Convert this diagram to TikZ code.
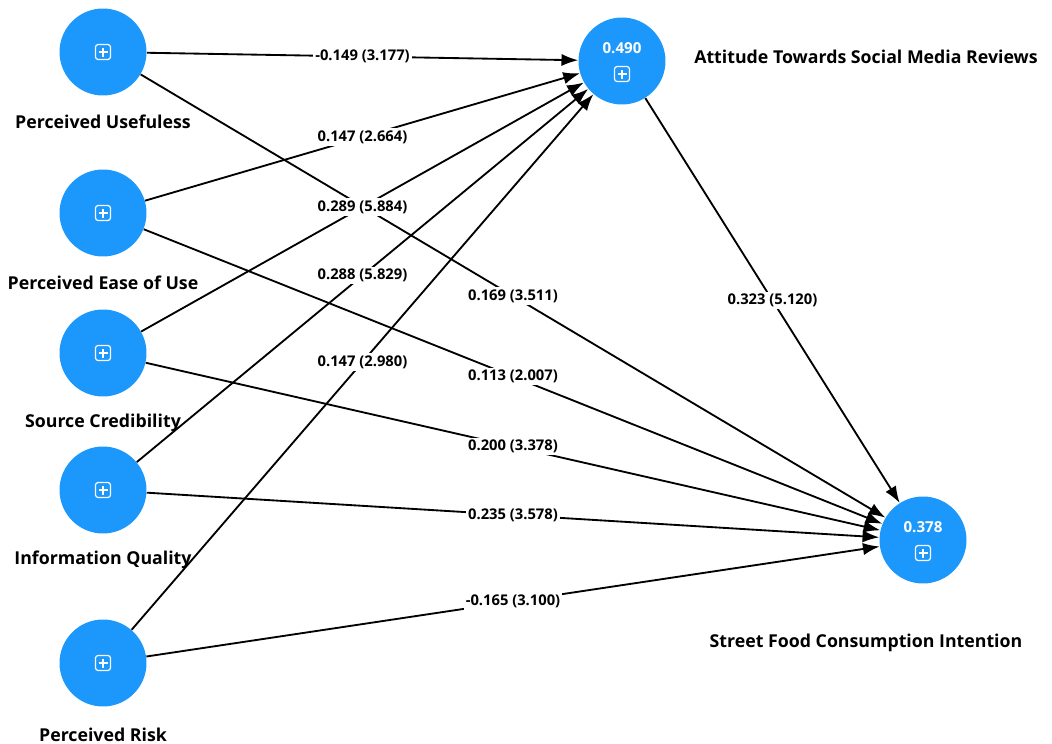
\documentclass[tikz,border=0pt]{standalone}
\usepackage{fontspec}
\setmainfont{Open Sans}
\usetikzlibrary{calc,arrows.meta}

\definecolor{lvblue}{RGB}{28,152,252}

\tikzset{
  latent/.style={circle,fill=lvblue,minimum size=1.74cm,inner sep=0pt},
  cname/.style={font=\bfseries\fontsize{10.1}{12}\selectfont},
  coef/.style={font=\bfseries\fontsize{8.4}{10}\selectfont,fill=white,inner sep=1.2pt},
  rsq/.style={font=\bfseries\fontsize{8.6}{10}\selectfont,text=white,inner sep=0pt},
  path/.style={black,line width=1.05pt,-{Latex[length=9.5pt,width=7pt]}}
}

% white box with a plus, as drawn in the model view
\newcommand{\plusbox}[1]{%
  \draw[white,line width=0.7pt,rounded corners=1.5pt] ($(#1)+(-7.5,-7.5)$) rectangle ($(#1)+(7.5,7.5)$);
  \draw[white,line width=0.7pt] ($(#1)+(-4.5,0)$) -- ($(#1)+(4.5,0)$) ($(#1)+(0,-4.5)$) -- ($(#1)+(0,4.5)$);}

\def\pathlist{pu/att/{-0.149 (3.177)},peou/att/{0.147 (2.664)},sc/att/{0.289 (5.884)},iq/att/{0.288 (5.829)},pr/att/{0.147 (2.980)},pu/sfci/{0.169 (3.511)},peou/sfci/{0.113 (2.007)},sc/sfci/{0.200 (3.378)},iq/sfci/{0.235 (3.578)},pr/sfci/{-0.165 (3.100)},att/sfci/{0.323 (5.120)}}

\begin{document}
\begin{tikzpicture}[x=0.02cm,y=-0.02cm]
  \useasboundingbox (0,0) rectangle (1052,744);

  % constructs
  \node[latent] (pu) at (103,52) {};
  \node[latent] (peou) at (103,213) {};
  \node[latent] (sc) at (103,353) {};
  \node[latent] (iq) at (103,490) {};
  \node[latent] (pr) at (103,663) {};
  \node[latent] (att) at (622,61) {};
  \node[latent] (sfci) at (923,540) {};

  \foreach \n in {pu,peou,sc,iq,pr}{\plusbox{\n}}
  \plusbox{$(att)+(0,13)$}
  \plusbox{$(sfci)+(0,13)$}
  \node[rsq] (att-r) at ($(att)+(0,-13)$) {0.490};
  \node[rsq] (sfci-r) at ($(sfci)+(0,-13)$) {0.378};

  % construct names
  \node[cname] (pu-t) at (103,122) {Perceived Usefuless};
  \node[cname] (peou-t) at (103,283) {Perceived Ease of Use};
  \node[cname] (sc-t) at (103,423) {Source Credibility};
  \node[cname] (iq-t) at (103,560) {Information Quality};
  \node[cname] (pr-t) at (103,735) {Perceived Risk};
  \node[cname] (att-t) at (866,57) {Attitude Towards Social Media Reviews};
  \node[cname] (sfci-t) at (866,643) {Street Food Consumption Intention};

  % paths, then coefficients on top
  \foreach \a/\b/\t in \pathlist{\draw[path] (\a) -- (\b);}
  \foreach \a/\b/\t in \pathlist{\node[coef] at ($(\a)!0.5!(\b)$) {\t};}
\end{tikzpicture}
\end{document}
